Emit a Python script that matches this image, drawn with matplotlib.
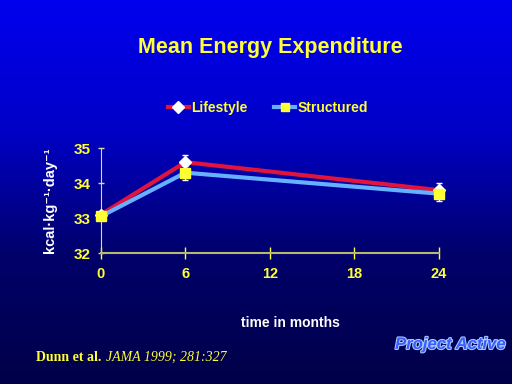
import numpy as np
import matplotlib.pyplot as plt
import matplotlib.patheffects as pe
from matplotlib.colors import LinearSegmentedColormap
from matplotlib.lines import Line2D

plt.rcParams['font.family'] = ['Liberation Sans', 'DejaVu Sans']

months = [0, 6, 24]
lifestyle = [33.1, 34.6, 33.8]
lifestyle_err = [0.0, 0.2, 0.2]
structured = [33.05, 34.3, 33.7]
structured_err = [0.0, 0.2, 0.2]
xticks = [0, 6, 12, 18, 24]
yticks = [32, 33, 34, 35]

yellow = '#ffff33'
red = '#e0143c'
lblue = '#66b0ff'

fig = plt.figure(figsize=(5.12, 3.84), dpi=100)

# background gradient
bg = fig.add_axes([0, 0, 1, 1])
grad = np.linspace(0, 1, 256).reshape(-1, 1)
cmap = LinearSegmentedColormap.from_list('bg', ['#0000ee', '#0000c8', '#00006a', '#000048'])
bg.imshow(grad, aspect='auto', cmap=cmap, extent=[0, 1, 0, 1])
bg.axis('off')

ax = fig.add_axes([0.197, 0.341, 0.660, 0.273])
ax.set_facecolor('none')

l1 = ax.errorbar(months, lifestyle, yerr=lifestyle_err, color=red, lw=3,
                 marker='D', ms=6.5, mfc='white', mec='white', ecolor='white',
                 elinewidth=1, capsize=2, zorder=3)
l2 = ax.errorbar(months, structured, yerr=structured_err, color=lblue, lw=3,
                 marker='s', ms=6.5, mfc=yellow, mec=yellow, ecolor='white',
                 elinewidth=1, capsize=2, zorder=4)
for c in (l1, l2):
    for a in c.get_children():
        a.set_clip_on(False)

ax.set_xlim(0, 24)
ax.set_ylim(32, 35)
ax.set_xticks(xticks)
ax.set_yticks(yticks)
for s in ['top', 'right']:
    ax.spines[s].set_visible(False)
ax.spines['left'].set_color('#dddd99')
ax.spines['left'].set_linestyle((0, (1, 1)))
ax.spines['bottom'].set_color('#b8b870')
ax.spines['bottom'].set_linewidth(1.5)
ax.tick_params(axis='x', colors=yellow, direction='inout', length=8, width=1,
               labelsize=10.5, pad=6)
ax.tick_params(axis='y', colors='#dddd99', direction='inout', length=4, width=1,
               labelsize=11, pad=5)
for lab in ax.get_xticklabels() + ax.get_yticklabels():
    lab.set_color(yellow)
    lab.set_fontweight('bold')

ax.set_ylabel('kcal·kg⁻¹·day⁻¹', color='white', fontsize=10.5, fontweight='bold')
ax.yaxis.set_label_coords(-0.13, 0.5)
ax.set_xlabel('time in months', color='white', fontsize=10, fontweight='bold')
ax.xaxis.set_label_coords(0.56, -0.6)

handles = [
    Line2D([], [], color=red, lw=3, marker='D', ms=6, mfc='white', mec='white'),
    Line2D([], [], color=lblue, lw=3, marker='s', ms=6, mfc=yellow, mec=yellow),
]
leg = ax.legend(handles, ['Lifestyle', 'Structured'], loc='lower center',
                bbox_to_anchor=(0.495, 1.2), ncol=2, frameon=False, fontsize=10,
                handlelength=1.5, handletextpad=0.2, columnspacing=1.9)
for t in leg.get_texts():
    t.set_color(yellow)
    t.set_fontweight('bold')

fig.text(0.527, 0.875, 'Mean Energy Expenditure', color=yellow, fontsize=15.5,
         fontweight='bold', ha='center', va='center')

t1 = fig.text(0.07, 0.07, 'Dunn et al. ', color=yellow, fontsize=10,
              fontweight='bold', family='Liberation Serif', va='center')
t2 = fig.text(0.2, 0.07, 'JAMA 1999; 281:327', color=yellow, fontsize=10,
              fontstyle='italic', family='Liberation Serif', va='center')
# place italic part right after the bold part
fig.canvas.draw()
bb = t1.get_window_extent()
t2.set_position((bb.x1 / fig.bbox.width + 0.002, 0.07))

fig.text(0.987, 0.103, 'Project Active', color='#3a5cff', fontsize=12,
         fontweight='bold', fontstyle='italic', ha='right', va='center',
         path_effects=[pe.withStroke(linewidth=1.5, foreground='#aaccff')])

fig.savefig('out.png', dpi=100)
